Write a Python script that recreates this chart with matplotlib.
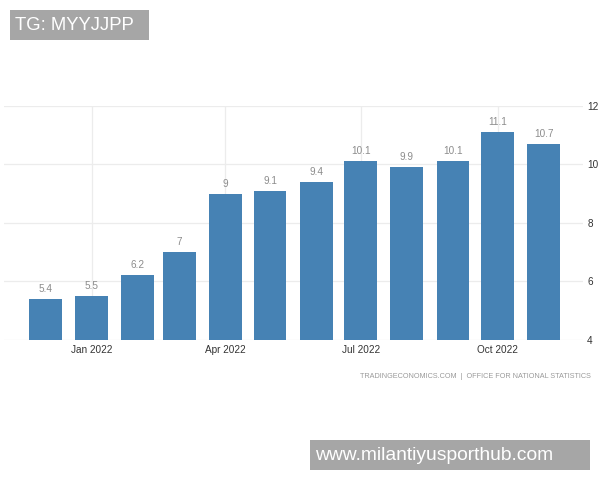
import pandas as pd
import matplotlib
matplotlib.use('Agg')
import matplotlib.pyplot as plt
import matplotlib.dates as mdates
import matplotlib.patches as patches

months = ['2021-12', '2022-01', '2022-02', '2022-03', '2022-04', '2022-05',
          '2022-06', '2022-07', '2022-08', '2022-09', '2022-10', '2022-11']
values = [5.4, 5.5, 6.2, 7, 9, 9.1, 9.4, 10.1, 9.9, 10.1, 11.1, 10.7]
value_labels = ['5.4', '5.5', '6.2', '7', '9', '9.1', '9.4', '10.1', '9.9', '10.1', '11.1', '10.7']
x_tick_months = ['2022-01', '2022-04', '2022-07', '2022-10']
y_ticks = [4, 6, 8, 10, 12]
source_text = 'TRADINGECONOMICS.COM  |  OFFICE FOR NATIONAL STATISTICS'

W, H = 600, 480
BAR_COLOR = '#4682b4'
GRID_COLOR = '#ececec'
BOX_COLOR = '#a6a6a6'

plt.rcParams['font.family'] = 'Liberation Sans'

fig = plt.figure(figsize=(W / 100, H / 100), dpi=100)
ax = fig.add_axes([4 / W, 1 - 339.5 / H, 579 / W, 233.5 / H])

dates = pd.to_datetime(months)
ax.bar(dates, values, width=22, color=BAR_COLOR, zorder=3)

ax.set_xlim(mdates.date2num(pd.Timestamp('2021-11-03')), mdates.date2num(pd.Timestamp('2022-11-27 12:00')))
ax.set_ylim(4, 12)

for d, v, lab in zip(dates, values, value_labels):
    ax.annotate(lab, (d, v), xytext=(0, 5), textcoords='offset pixels', ha='center', va='bottom',
                fontsize=7.2, color='#8c8c8c', zorder=4)

ax.set_xticks(pd.to_datetime(x_tick_months))
ax.xaxis.set_major_formatter(mdates.DateFormatter('%b %Y'))
ax.set_yticks(y_ticks)
ax.yaxis.tick_right()
ax.tick_params(axis='both', length=0, labelsize=7.2, labelcolor='#333333')
ax.tick_params(axis='x', pad=4)
ax.tick_params(axis='y', pad=3)
ax.grid(True, color=GRID_COLOR, linewidth=0.9, zorder=0)
for spine in ax.spines.values():
    spine.set_visible(False)

fig.text(591 / W, 1 - 376 / H, source_text, ha='right', va='center', fontsize=5.25, color='#9a9a9a')

# grey watermark boxes
fig.add_artist(patches.Rectangle((10 / W, 1 - 40 / H), 139 / W, 30 / H, transform=fig.transFigure,
                                 facecolor=BOX_COLOR, edgecolor='none'))
fig.add_artist(patches.Rectangle((310 / W, 1 - 470 / H), 280 / W, 30 / H, transform=fig.transFigure,
                                 facecolor=BOX_COLOR, edgecolor='none'))
fig.text(15 / W, 1 - 26 / H, 'TG: MYYJJPP', ha='left', va='center', fontsize=13.3, color='white')
fig.text(315 / W, 1 - 455 / H, 'www.milantiyusporthub.com', ha='left', va='center', fontsize=13.9, color='white')

fig.savefig('out.png', dpi=100)
